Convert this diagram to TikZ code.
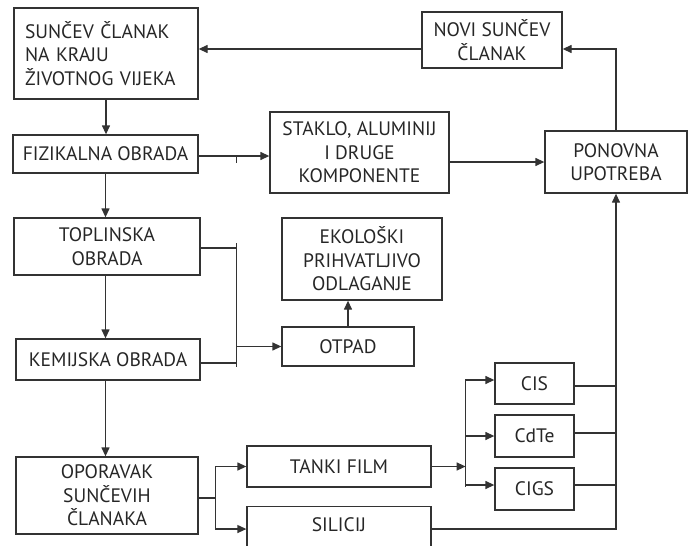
\documentclass[tikz,border=0pt]{standalone}
\usepackage{fontspec}
\setmainfont{PT Sans}
\usetikzlibrary{arrows.meta,calc}

\begin{document}
\begin{tikzpicture}[x=1pt,y=-1pt,
    box/.style={draw=black!80, line width=1.3pt, inner sep=0pt, align=center,
        text=black!85, text depth=0pt, font=\fontsize{19.5}{23.5}\selectfont},
    ln/.style={draw=black!80, line width=1.3pt},
    arr/.style={ln, -{Triangle[length=9pt,width=8pt]}}]
  \clip (0,0) rectangle (689,546);
  % boxes
  \node[box, minimum width=184pt, minimum height=91pt, text width=162pt, align=left, text depth=47pt] (zivot) at (106,53.5) {SUNČEV ČLANAK\\ NA KRAJU\\ ŽIVOTNOG VIJEKA};
  \node[box, minimum width=140pt, minimum height=56pt] (novi) at (492,40) {NOVI SUNČEV\\ ČLANAK};
  \node[box, minimum width=185pt, minimum height=38pt] (fiz) at (105.5,154) {FIZIKALNA OBRADA};
  \node[box, minimum width=179pt, minimum height=81pt] (staklo) at (359.5,152.5) {STAKLO, ALUMINIJ\\ I DRUGE\\ KOMPONENTE};
  \node[box, minimum width=142pt, minimum height=62pt] (ponovna) at (616,162) {PONOVNA\\ UPOTREBA};
  \node[box, minimum width=186pt, minimum height=57pt] (toplin) at (107,246.5) {TOPLINSKA\\ OBRADA};
  \node[box, minimum width=160pt, minimum height=82pt] (eko) at (362,259) {EKOLOŠKI\\ PRIHVATLJIVO\\ ODLAGANJE};
  \node[box, minimum width=184pt, minimum height=41pt] (kem) at (108,359.5) {KEMIJSKA OBRADA};
  \node[box, minimum width=132pt, minimum height=39pt] (otpad) at (348,346.5) {OTPAD};
  \node[box, minimum width=182pt, minimum height=77pt] (oporavak) at (107,495.5) {OPORAVAK\\ SUNČEVIH\\ ČLANAKA};
  \node[box, minimum width=184pt, minimum height=41pt] (tanki) at (339,466.5) {TANKI FILM};
  \node[box, minimum width=184pt, anchor=north, inner ysep=11pt, text depth=40pt] (sil) at (339,506) {SILICIJ};
  \node[box, minimum width=79pt, minimum height=41pt] (cis) at (534.5,383.5) {CIS};
  \node[box, minimum width=79pt, minimum height=42pt] (cdte) at (534.5,436) {CdTe};
  \node[box, minimum width=79pt, minimum height=42pt] (cigs) at (534.5,489) {CIGS};

  % gornji krug
  \draw[arr] ([yshift=-9pt]novi.west) -- ([yshift=-9pt]novi.west -| zivot.east);
  \draw[arr] (ponovna.north) |- ([yshift=-9pt]novi.east);
  \draw[arr] (zivot.south) -- (zivot.south |- fiz.north);
  \draw[arr] ([yshift=-2pt]fiz.east) -- ([yshift=-2pt]fiz.east -| staklo.west);
  \draw[ln] ([xshift=38pt,yshift=-2pt]fiz.east) -- ++(0,7);
  \draw[arr] (staklo.east |- ponovna.west) -- (ponovna.west);

  % lijevi stupac
  \draw[arr] (fiz.south) -- (fiz.south |- toplin.north);
  \draw[arr] (fiz.south |- toplin.south) -- (fiz.south |- kem.north);
  \draw[arr] (fiz.south |- kem.south) -- (fiz.south |- oporavak.north);

  % otpad
  \coordinate (sab) at ([xshift=-45pt]otpad.west);
  \draw[ln] ([yshift=-1.5pt]toplin.east) -- ([yshift=-1.5pt]toplin.east -| sab);
  \draw[ln] ([yshift=-3.5pt]kem.east) -- ([yshift=-3.5pt]kem.east -| sab);
  \draw[ln] ($(sab |- toplin.east)+(0,-3.5)$) -- ($(sab |- kem.east)+(0,7.5)$);
  \draw[arr] (sab) -- (otpad.west);
  \draw[arr] (otpad.north) -- (otpad.north |- eko.south);

  % oporavak
  \draw[ln] ([yshift=-2.5pt]oporavak.east) -- ++(17,0) coordinate (gr);
  \draw[arr] (gr) |- (tanki.west);
  \draw[arr] (gr) |- (sil.mid west);

  % tanki film
  \draw[arr] (tanki.east) -- ++(34,0) coordinate (tf);
  \draw[ln] ([yshift=4.5pt]cis.west -| tf) -- ([yshift=2pt]cigs.west -| tf);
  \draw[arr] ([yshift=3.5pt]cis.west -| tf) -- ([yshift=3.5pt]cis.west);
  \draw[arr] (cdte.west -| tf) -- (cdte.west);
  \draw[arr] ([yshift=4pt]cigs.west -| tf) -- ([yshift=4pt]cigs.west);

  % ponovna upotreba
  \draw[ln] ([yshift=-2.5pt]cis.east) -- ([yshift=-2.5pt]cis.east -| ponovna.south);
  \draw[ln] ([yshift=3pt]cdte.east) -- ([yshift=3pt]cdte.east -| ponovna.south);
  \draw[ln] ([yshift=4pt]cigs.east) -- ([yshift=4pt]cigs.east -| ponovna.south);
  \draw[arr] (sil.mid east) -| (ponovna.south);
\end{tikzpicture}
\end{document}
